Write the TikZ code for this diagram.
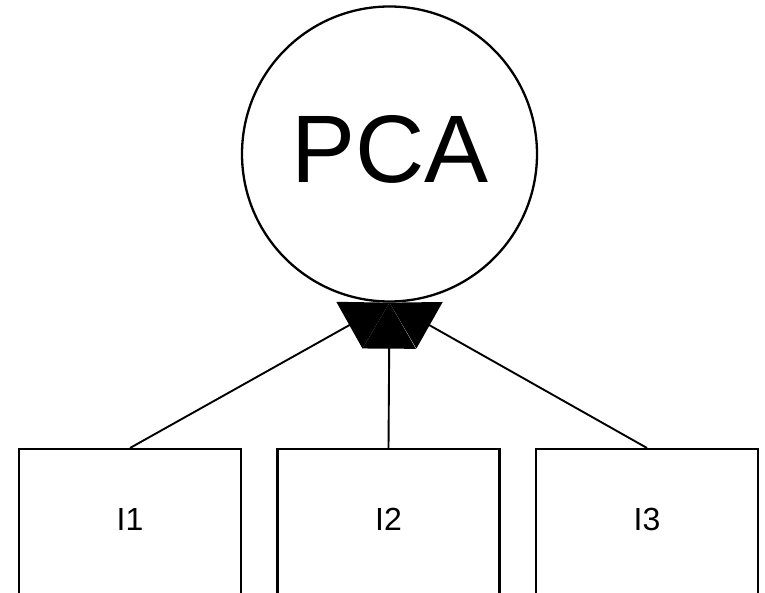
\documentclass[tikz,border=0pt]{standalone}
\usepackage{fontspec}
\setmainfont{Liberation Sans}
\usetikzlibrary{arrows.meta}
\begin{document}
\begin{tikzpicture}[x=1pt,y=-1pt,
  latent/.style={draw,circle,line width=2.3pt,minimum size=295pt,inner sep=0pt,fill=white},
  obsbox/.style={draw,rectangle,line width=2.3pt,minimum width=222pt,minimum height=200pt,anchor=north},
  lbl/.style={font=\fontsize{32}{36}\selectfont,anchor=base,inner sep=0pt},
  path/.style={line width=1.9pt,-{Triangle[length=46pt,width=53pt]}}]
\useasboundingbox (0,0) rectangle (765,593);
\clip (0,0) rectangle (765,593);
\node[latent] (pca) at (389.5,154) {};
\node[font=\fontsize{96}{110}\selectfont,anchor=base,inner sep=0pt] (pcatext) at (390,183) {PCA};
\node[obsbox] (i1) at (130,448) {};
\node[obsbox] (i2) at (388.5,448) {};
\node[obsbox] (i3) at (647,448) {};
\node[lbl] (t1) at (130,530) {I1};
\node[lbl] (t2) at (388.5,530) {I2};
\node[lbl] (t3) at (647,530) {I3};
\draw[path] (i1.north) -- (pca.south);
\draw[path] (i2.north) -- (pca.south);
\draw[path] (i3.north) -- (pca.south);
\end{tikzpicture}
\end{document}
